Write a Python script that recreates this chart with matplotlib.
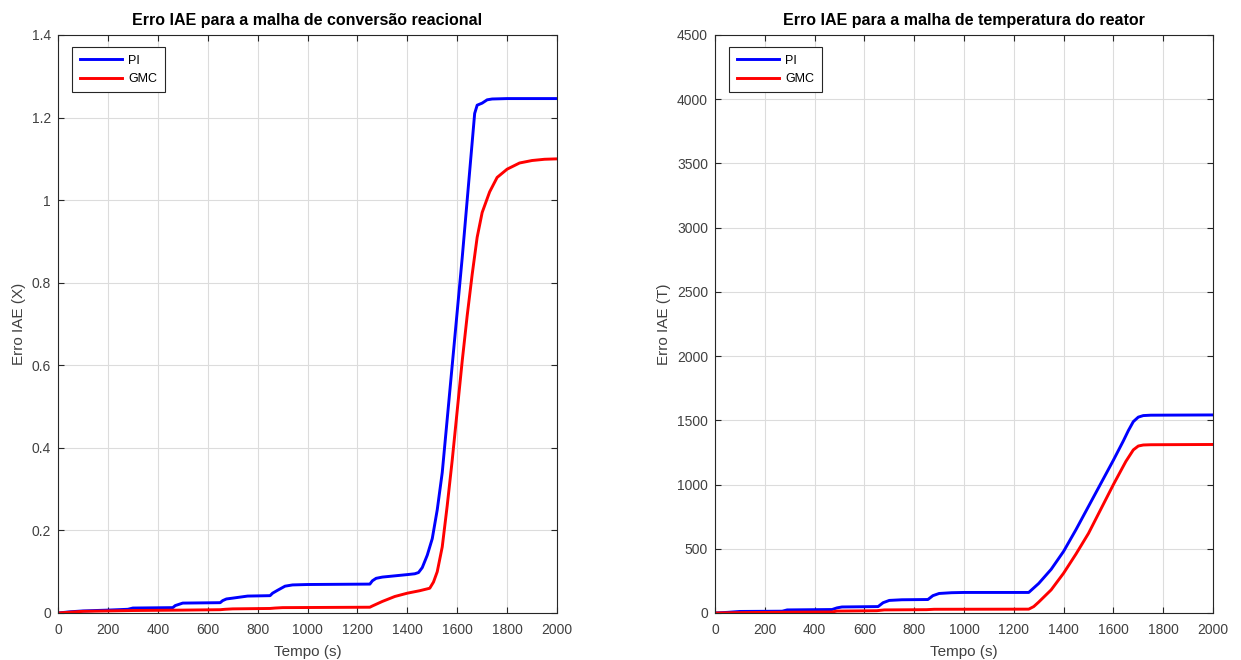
import matplotlib
matplotlib.use("Agg")
import matplotlib.pyplot as plt
import numpy as np

plt.rcParams['font.family'] = ['Liberation Sans', 'DejaVu Sans']

# Conversion loop IAE (left panel)
t_x_pi = [0, 50, 100, 200, 280, 300, 460, 470, 490, 500, 650, 660, 675, 700, 760, 850, 860,
          880, 910, 940, 1000, 1250, 1260, 1275, 1300, 1350, 1400, 1430, 1445, 1460, 1480,
          1500, 1520, 1540, 1560, 1580, 1600, 1620, 1640, 1660, 1670, 1680, 1700, 1720,
          1740, 1800, 2000]
x_pi = [0, 0.003, 0.005, 0.007, 0.009, 0.012, 0.013, 0.018, 0.022, 0.024, 0.025, 0.030,
        0.034, 0.036, 0.041, 0.042, 0.048, 0.055, 0.065, 0.068, 0.069, 0.070, 0.078, 0.084,
        0.087, 0.090, 0.093, 0.095, 0.098, 0.11, 0.14, 0.18, 0.25, 0.34, 0.47, 0.60, 0.73,
        0.86, 1.0, 1.14, 1.21, 1.23, 1.235, 1.243, 1.245, 1.246, 1.246]

t_x_gmc = [0, 50, 100, 200, 300, 500, 650, 670, 700, 850, 870, 900, 1250, 1260, 1300, 1350,
           1400, 1450, 1490, 1505, 1520, 1540, 1560, 1580, 1600, 1620, 1640, 1660, 1680,
           1700, 1730, 1760, 1800, 1850, 1900, 1950, 2000]
x_gmc = [0, 0.002, 0.004, 0.005, 0.006, 0.007, 0.008, 0.009, 0.010, 0.011, 0.012, 0.013,
         0.014, 0.017, 0.028, 0.040, 0.048, 0.054, 0.060, 0.075, 0.10, 0.16, 0.26, 0.37,
         0.49, 0.61, 0.72, 0.82, 0.91, 0.97, 1.02, 1.055, 1.075, 1.09, 1.096, 1.099, 1.100]

# Reactor temperature loop IAE (right panel)
t_T_pi = [0, 50, 100, 270, 290, 470, 490, 510, 655, 675, 700, 750, 855, 875, 900, 950, 1000,
          1260, 1280, 1300, 1350, 1400, 1450, 1500, 1550, 1600, 1640, 1660, 1680, 1700,
          1720, 1750, 2000]
T_pi = [0, 5, 12, 14, 24, 27, 40, 47, 50, 80, 98, 103, 105, 135, 152, 158, 160, 160, 195,
        230, 340, 480, 650, 830, 1010, 1190, 1340, 1420, 1490, 1525, 1537, 1540, 1542]

t_T_gmc = [0, 100, 300, 470, 490, 650, 680, 850, 880, 1260, 1280, 1300, 1350, 1400, 1450,
           1500, 1550, 1600, 1650, 1680, 1700, 1720, 1750, 2000]
T_gmc = [0, 3, 6, 8, 15, 18, 24, 26, 29, 30, 50, 85, 180, 310, 460, 620, 810, 1000, 1180,
         1270, 1300, 1308, 1310, 1312]

titles = ["Erro IAE para a malha de conversão reacional",
          "Erro IAE para a malha de temperatura do reator"]
ylabels = ["Erro IAE (X)", "Erro IAE (T)"]
xlabel = "Tempo (s)"
series_labels = ["PI", "GMC"]
x_ticks = list(range(0, 2001, 200))
y_ticks_left = [0, 0.2, 0.4, 0.6, 0.8, 1, 1.2, 1.4]
y_ticks_right = list(range(0, 4501, 500))

W, H = 1241, 660
fig = plt.figure(figsize=(W / 100, H / 100), dpi=100)
ax1 = fig.add_axes([58 / W, 1 - 613 / H, 499 / W, 578 / H])
ax2 = fig.add_axes([715 / W, 1 - 613 / H, 498 / W, 578 / H])

axis_col = '#262626'
label_col = '#404040'
panels = [
    (ax1, t_x_pi, x_pi, t_x_gmc, x_gmc, y_ticks_left, ['0', '0.2', '0.4', '0.6', '0.8', '1', '1.2', '1.4']),
    (ax2, t_T_pi, T_pi, t_T_gmc, T_gmc, y_ticks_right, [str(v) for v in y_ticks_right]),
]

for i, (ax, tp, vp, tg, vg, yt, ytl) in enumerate(panels):
    ax.plot(tp, vp, color='#0000ff', lw=2.1, label=series_labels[0], solid_joinstyle='round')
    ax.plot(tg, vg, color='#ff0000', lw=2.1, label=series_labels[1], solid_joinstyle='round')
    ax.set_xlim(0, 2000)
    ax.set_ylim(yt[0], yt[-1])
    ax.set_xticks(x_ticks)
    ax.set_xticklabels([str(v) for v in x_ticks])
    ax.set_yticks(yt)
    ax.set_yticklabels(ytl)
    ax.grid(True, color='#dcdcdc', lw=0.8)
    ax.set_axisbelow(True)
    ax.tick_params(direction='in', top=True, right=True, length=4, width=0.8,
                   color=axis_col, labelcolor=label_col, labelsize=10)
    ax.tick_params(axis='x', pad=7)
    ax.tick_params(axis='y', pad=5)
    for s in ax.spines.values():
        s.set_color(axis_col)
        s.set_linewidth(0.8)
    ax.set_title(titles[i], fontsize=11.5, fontweight='bold', color='black', pad=7)
    ax.set_xlabel(xlabel, fontsize=11, color=label_col, labelpad=6)
    ax.set_ylabel(ylabels[i], fontsize=11, color=label_col, labelpad=4)
    leg = ax.legend(loc='upper left', bbox_to_anchor=(0.029, 0.979), borderaxespad=0,
                    fontsize=9, handlelength=3.4, handletextpad=0.45, borderpad=0.6,
                    labelspacing=0.5, fancybox=False, framealpha=1)
    leg.get_frame().set_edgecolor(axis_col)
    leg.get_frame().set_linewidth(0.8)

fig.savefig('out.png', dpi=100)
